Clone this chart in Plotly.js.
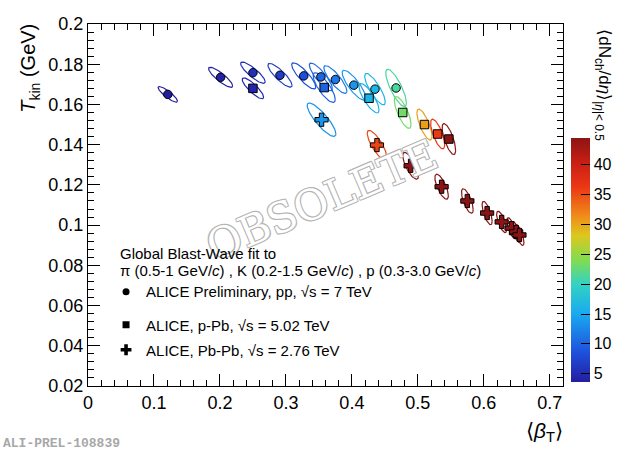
<!DOCTYPE html>
<html>
<head>
<meta charset="utf-8">
<script src="https://cdn.plot.ly/plotly-3.0.1.min.js"></script>
<style>
  html, body { margin: 0; padding: 0; background: #fff; }
  #chart { width: 623px; height: 456px; }
</style>
</head>
<body>
<div id="chart"></div>
<script>
// pp 7 TeV (preliminary), multiplicity classes
const ppBeta = [0.121, 0.201, 0.250, 0.291, 0.327, 0.353, 0.375, 0.403, 0.435, 0.467];
const ppTkin = [0.1650, 0.1735, 0.1758, 0.1745, 0.1742, 0.1737, 0.1724, 0.1696, 0.1676, 0.1682];
const ppMult = [2.26, 3.90, 5.40, 6.72, 8.45, 10.1, 11.5, 13.5, 16.5, 21.3];
const ppSigB = [0.0147, 0.0182, 0.0186, 0.0182, 0.0182, 0.0174, 0.0174, 0.0177, 0.0156, 0.0156];
const ppSigT = [0.0039, 0.0050, 0.0053, 0.0059, 0.0065, 0.0069, 0.0069, 0.0074, 0.0078, 0.0093];
const ppRho = [-0.87, -0.86, -0.86, -0.85, -0.85, -0.85, -0.84, -0.83, -0.82, -0.8];

// p-Pb 5.02 TeV
const ppbBeta = [0.250, 0.358, 0.426, 0.477, 0.510, 0.530, 0.547];
const ppbTkin = [0.1680, 0.1684, 0.1631, 0.1560, 0.1500, 0.1453, 0.1428];
const ppbMult = [4.3, 9.8, 16.1, 23.2, 30.5, 36.2, 45.0];
const ppbSigB = [0.0162, 0.0167, 0.0152, 0.0126, 0.0114, 0.0106, 0.0102];
const ppbSigT = [0.0052, 0.0074, 0.0073, 0.0079, 0.0077, 0.0074, 0.0077];
const ppbRho = [-0.85, -0.8, -0.8, -0.75, -0.75, -0.72, -0.72];

// Pb-Pb 2.76 TeV
const pbBeta = [0.354, 0.438, 0.489, 0.536, 0.575, 0.605, 0.627, 0.642, 0.649, 0.654];
const pbTkin = [0.1524, 0.1398, 0.1295, 0.1191, 0.1120, 0.1060, 0.1016, 0.0985, 0.0966, 0.0951];
const pbMult = [13.4, 35.5, 76, 149, 261, 426, 649, 966, 1294, 1601];
const pbSigB = [0.0217, 0.0147, 0.0118, 0.0102, 0.0088, 0.0076, 0.0076, 0.0071, 0.0068, 0.0068];
const pbSigT = [0.0083, 0.0073, 0.0067, 0.0062, 0.0061, 0.0058, 0.0053, 0.0052, 0.0052, 0.0052];
const pbRho = [-0.85, -0.8, -0.75, -0.72, -0.7, -0.7, -0.7, -0.7, -0.7, -0.7];

const cbTicks = [5, 10, 15, 20, 25, 30, 35, 40];
const multMin = 3.6;
const multMax = 44.5;

const palette = [
  [0.00, [35, 30, 160]],
  [0.12, [30, 80, 220]],
  [0.28, [25, 170, 240]],
  [0.40, [50, 210, 195]],
  [0.50, [130, 220, 80]],
  [0.60, [220, 200, 30]],
  [0.68, [240, 140, 25]],
  [0.80, [235, 55, 20]],
  [0.90, [200, 30, 20]],
  [1.00, [140, 20, 20]]
];
const colorscale = palette.map(p => [p[0], 'rgb(' + p[1].join(',') + ')']);

function multColor(v) {
  let f = (v - multMin) / (multMax - multMin);
  f = Math.max(0, Math.min(1, f));
  for (let i = 1; i < palette.length; i++) {
    if (f <= palette[i][0]) {
      const a = palette[i - 1], b = palette[i];
      const u = (f - a[0]) / (b[0] - a[0]);
      const c = a[1].map((x, k) => Math.round(x + (b[1][k] - x) * u));
      return 'rgb(' + c.join(',') + ')';
    }
  }
  return 'rgb(' + palette[palette.length - 1][1].join(',') + ')';
}

// 1-sigma contour from widths and correlation
function ellipse(cx, cy, sx, sy, rho) {
  const xs = [], ys = [];
  const q = Math.sqrt(1 - rho * rho);
  for (let i = 0; i <= 72; i++) {
    const t = 2 * Math.PI * i / 72;
    xs.push(cx + sx * Math.cos(t));
    ys.push(cy + sy * (rho * Math.cos(t) + q * Math.sin(t)));
  }
  return { xs, ys };
}

const traces = [];
function addContours(bx, ty, sb, st, rh, mult) {
  bx.forEach((b, i) => {
    const e = ellipse(b, ty[i], sb[i], st[i], rh[i]);
    traces.push({
      x: e.xs, y: e.ys, type: 'scatter', mode: 'lines',
      line: { color: multColor(mult[i]), width: 1.2 },
      hoverinfo: 'skip', showlegend: false
    });
  });
}
addContours(ppBeta, ppTkin, ppSigB, ppSigT, ppRho, ppMult);
addContours(ppbBeta, ppbTkin, ppbSigB, ppbSigT, ppbRho, ppbMult);
addContours(pbBeta, pbTkin, pbSigB, pbSigT, pbRho, pbMult);

const markerBase = {
  colorscale: colorscale, cmin: multMin, cmax: multMax,
  line: { color: '#000', width: 1 }
};

traces.push({
  x: ppBeta, y: ppTkin, type: 'scatter', mode: 'markers', showlegend: false,
  marker: Object.assign({}, markerBase, {
    color: ppMult, symbol: 'circle', size: 8.5, showscale: true,
    colorbar: {
      x: 1.017, xanchor: 'left', xpad: 0, ypad: 0,
      y: 0.011, yanchor: 'bottom',
      len: 244, lenmode: 'pixels', thickness: 19,
      outlinewidth: 0,
      tickvals: cbTicks, ticks: 'inside', ticklen: 9, tickcolor: '#000',
      tickfont: { family: 'Liberation Sans, Arial, sans-serif', size: 16, color: '#000' }
    }
  })
});
traces.push({
  x: ppbBeta, y: ppbTkin, type: 'scatter', mode: 'markers', showlegend: false,
  marker: Object.assign({}, markerBase, { color: ppbMult, symbol: 'square', size: 8.5 })
});
traces.push({
  x: pbBeta, y: pbTkin, type: 'scatter', mode: 'markers', showlegend: false,
  marker: Object.assign({}, markerBase, { color: pbMult, symbol: 'cross', size: 11 })
});

// legend entries
const legendNames = [
  'ALICE Preliminary, pp, √s = 7 TeV',
  'ALICE, p-Pb, √s = 5.02 TeV',
  'ALICE, Pb-Pb, √s = 2.76 TeV'
];
const legendSymbols = ['circle', 'square', 'cross'];
const legendIds = ['legend', 'legend2', 'legend3'];
legendNames.forEach((n, i) => {
  traces.push({
    x: [null], y: [null], type: 'scatter', mode: 'markers', name: n,
    legend: legendIds[i],
    marker: { color: '#000', symbol: legendSymbols[i], size: i === 2 ? 9 : 7 }
  });
});

const font = 'Liberation Sans, Arial, Helvetica, sans-serif';
function legendAt(y) {
  return {
    x: 0.038, xanchor: 'left', y: y, yanchor: 'middle',
    bgcolor: 'rgba(0,0,0,0)', borderwidth: 0,
    font: { family: font, size: 15, color: '#000' }
  };
}

const axisBase = {
  showgrid: false, zeroline: false, showline: true, linecolor: '#000', linewidth: 1,
  mirror: 'ticks', ticks: 'inside', ticklen: 12, tickcolor: '#000', tickwidth: 1,
  tickfont: { family: font, size: 18, color: '#000' }
};

const layout = {
  width: 623, height: 456,
  margin: { l: 88, r: 60, t: 24, b: 70, autoexpand: false },
  paper_bgcolor: '#fff', plot_bgcolor: '#fff',
  font: { family: font, color: '#000' },
  xaxis: Object.assign({}, axisBase, {
    range: [0, 0.72], dtick: 0.1, tick0: 0,
    minor: { dtick: 0.02, ticks: 'inside', ticklen: 6, tickcolor: '#000', showgrid: false }
  }),
  yaxis: Object.assign({}, axisBase, {
    range: [0.02, 0.2], dtick: 0.02, tick0: 0,
    minor: { dtick: 0.004, ticks: 'inside', ticklen: 6, tickcolor: '#000', showgrid: false }
  }),
  legend: legendAt(0.26),
  legend2: legendAt(0.1685),
  legend3: legendAt(0.0994),
  annotations: [
    {
      xref: 'x', yref: 'y', x: 0.354, y: 0.1122, xanchor: 'center', yanchor: 'middle',
      textangle: -23, showarrow: false, text: 'OBSOLETE',
      font: {
        family: 'DejaVu Serif, Liberation Serif, serif', size: 42,
        color: '#ffffff',
        shadow: '1px 1px 0 #b4b4b4, -1px -1px 0 #b4b4b4, 1px -1px 0 #b4b4b4, -1px 1px 0 #b4b4b4'
      }
    },
    {
      xref: 'paper', yref: 'paper', x: -0.122, y: 1.005, xanchor: 'center', yanchor: 'top',
      textangle: -90, showarrow: false,
      text: '<i>T</i><sub>kin</sub> (GeV)', font: { family: font, size: 20 }
    },
    {
      xref: 'paper', yref: 'paper', x: 1.004, y: -0.085, xanchor: 'right', yanchor: 'top',
      showarrow: false,
      text: '⟨<i>β</i><sub>T</sub>⟩', font: { family: font, size: 21 }
    },
    {
      xref: 'paper', yref: 'paper', x: 1.085, y: 0.99, xanchor: 'center', yanchor: 'top',
      textangle: 90, showarrow: false,
      text: '⟨dN<sub>ch</sub>/d<i>η</i>⟩<sub>|<i>η</i>|&lt; 0.5</sub>', font: { family: font, size: 17 }
    },
    {
      xref: 'paper', yref: 'paper', x: 0.064, y: 0.366, xanchor: 'left', yanchor: 'middle',
      showarrow: false, align: 'left',
      text: 'Global Blast-Wave fit to', font: { family: font, size: 15 }
    },
    {
      xref: 'paper', yref: 'paper', x: 0.064, y: 0.318, xanchor: 'left', yanchor: 'middle',
      showarrow: false, align: 'left',
      text: 'π (0.5-1 GeV/<i>c</i>) , K (0.2-1.5 GeV/<i>c</i>) , p (0.3-3.0 GeV/<i>c</i>)',
      font: { family: font, size: 15 }
    },
    {
      xref: 'paper', yref: 'paper', x: -0.183, y: -0.16, xanchor: 'left', yanchor: 'middle',
      showarrow: false, text: 'ALI-PREL-108839',
      font: { family: 'Liberation Mono, DejaVu Sans Mono, monospace', size: 13, weight: 'bold', color: '#a8a8a8' }
    }
  ]
};

Plotly.newPlot('chart', traces, layout, { displayModeBar: false, staticPlot: true });
</script>
</body>
</html>
